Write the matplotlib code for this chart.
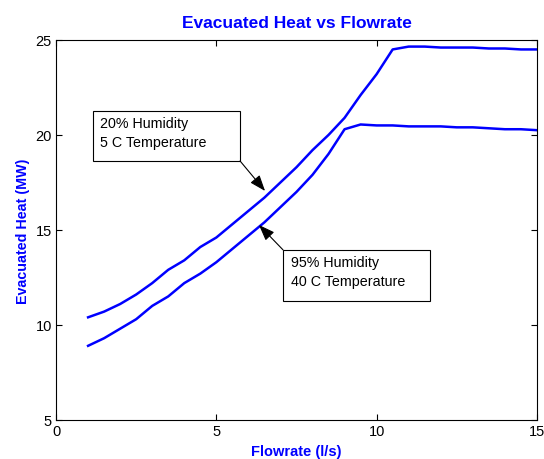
import matplotlib.pyplot as plt
from matplotlib.patches import Rectangle

plt.rcParams['font.family'] = ['Liberation Sans', 'DejaVu Sans']

flow = [1, 1.5, 2, 2.5, 3, 3.5, 4, 4.5, 5, 5.5, 6, 6.5, 7, 7.5, 8, 8.5, 9,
        9.5, 10, 10.5, 11, 11.5, 12, 12.5, 13, 13.5, 14, 14.5, 15]
heat_20 = [10.4, 10.7, 11.1, 11.6, 12.2, 12.9, 13.4, 14.1, 14.6, 15.3, 16.0,
           16.7, 17.5, 18.3, 19.2, 20.0, 20.9, 22.1, 23.2, 24.5, 24.65, 24.65,
           24.6, 24.6, 24.6, 24.55, 24.55, 24.5, 24.5]
heat_95 = [8.9, 9.3, 9.8, 10.3, 11.0, 11.5, 12.2, 12.7, 13.3, 14.0, 14.7,
           15.4, 16.2, 17.0, 17.9, 19.0, 20.3, 20.55, 20.5, 20.5, 20.45, 20.45,
           20.45, 20.4, 20.4, 20.35, 20.3, 20.3, 20.25]

fig = plt.figure(figsize=(5.44, 4.6), dpi=100)
ax = fig.add_axes([0.103, 0.085, 0.884, 0.826])

ax.plot(flow, heat_20, color='blue', lw=1.8)
ax.plot(flow, heat_95, color='blue', lw=1.8)

ax.set_xlim(0, 15)
ax.set_ylim(5, 25)
ax.set_xticks([0, 5, 10, 15])
ax.set_yticks([5, 10, 15, 20, 25])
ax.tick_params(direction='in', top=True, right=True, labelsize=10.5, length=4, pad=3)

ax.set_title('Evacuated Heat vs Flowrate', color='blue', fontweight='bold',
             fontsize=12.5, pad=9)
ax.set_xlabel('Flowrate (l/s)', color='blue', fontweight='bold', fontsize=10.5)
ax.set_ylabel('Evacuated Heat (MW)', color='blue', fontweight='bold', fontsize=10.3)

arrow = dict(arrowstyle='-|>,head_length=0.75,head_width=0.28', color='black',
             lw=0.8, mutation_scale=13, shrinkA=0, shrinkB=0)

# text boxes with arrows
ax.add_patch(Rectangle((1.15, 18.63), 4.59, 2.63, fill=False, lw=0.8, ec='black'))
ax.text(1.38, 21.0, '20% Humidity\n5 C Temperature', fontsize=10.3, va='top', ha='left',
        linespacing=1.45)
ax.annotate('', xy=(6.52, 17.05), xytext=(5.74, 18.63), arrowprops=arrow)

ax.add_patch(Rectangle((7.08, 11.26), 4.58, 2.69, fill=False, lw=0.8, ec='black'))
ax.text(7.33, 13.7, '95% Humidity\n40 C Temperature', fontsize=10.3, va='top', ha='left',
        linespacing=1.45)
ax.annotate('', xy=(6.33, 15.26), xytext=(7.08, 13.95), arrowprops=arrow)

fig.savefig('out.png', dpi=100)
